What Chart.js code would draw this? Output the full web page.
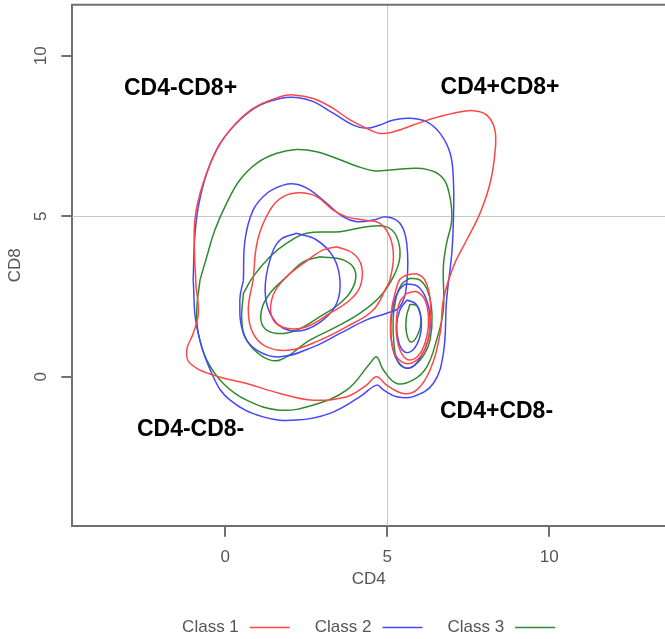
<!DOCTYPE html>
<html>
<head>
<meta charset="utf-8">
<script src="https://cdn.jsdelivr.net/npm/chart.js@4"></script>
<style>
  html, body { margin: 0; padding: 0; background: #fff; overflow: hidden; }
</style>
</head>
<body>
<canvas id="chart" width="665" height="639"></canvas>
<script>
// axis ticks and gate lines
const xTicks = [0, 5, 10];
const yTicks = [0, 5, 10];
const gateX = 5;
const gateY = 5;

const classNames = ['Class 1', 'Class 2', 'Class 3'];

// quadrant labels, placed in data units
const quadrantLabels = ['CD4-CD8+', 'CD4+CD8+', 'CD4-CD8-', 'CD4+CD8-'];
const quadrantX = [-1.38, 8.48, -1.07, 8.37];
const quadrantY = [8.96, 9.02, -1.66, -1.10];

// contour lines, [CD4, CD8]
const class1Level1 = [[-0.90,2.80],[-0.95,3.90],[-0.94,4.88],[-0.78,5.71],[-0.37,6.85],[0.15,7.69],[0.86,8.36],[1.69,8.72],[2.10,8.78],[2.72,8.67],[3.33,8.36],[3.85,8.00],[4.36,7.74],[4.77,7.58],[5.19,7.63],[5.80,7.84],[6.42,8.05],[7.04,8.21],[7.65,8.29],[8.07,8.15],[8.32,7.69],[8.32,6.96],[8.17,6.02],[7.86,5.09],[7.45,4.26],[7.04,3.43],[6.73,2.39],[6.63,1.35],[6.32,0.21],[5.91,-0.41],[5.49,-0.52],[4.98,-0.26],[4.67,0.00],[4.36,-0.26],[3.75,-0.62],[2.72,-0.73],[1.69,-0.52],[0.66,-0.21],[-0.37,0.05],[-1.09,0.42],[-1.19,0.83],[-0.99,1.35],[-0.83,1.98]];
const class1Level2 = [[0.86,3.01],[1.00,4.26],[1.38,5.19],[1.79,5.61],[2.31,5.73],[2.82,5.61],[3.33,5.19],[3.75,4.98],[4.26,4.88],[4.77,4.78],[5.08,4.36],[5.19,3.74],[5.08,3.01],[4.98,2.80],[4.57,2.08],[3.75,1.56],[2.92,1.14],[2.00,0.83],[1.28,0.93],[0.86,1.35],[0.71,2.08]];
const class1Level3 = [[3.44,4.05],[3.95,3.84],[4.21,3.43],[4.16,2.80],[3.85,2.39],[3.23,1.98],[2.51,1.56],[1.90,1.51],[1.48,1.77],[1.43,2.39],[1.79,3.01],[2.41,3.53],[3.02,3.95]];
const class1Spot1 = [[5.60,3.17],[5.91,3.20],[6.16,3.01],[6.32,2.45],[6.32,1.77],[6.26,1.14],[6.06,0.68],[5.76,0.43],[5.45,0.46],[5.21,0.77],[5.10,1.36],[5.14,2.14],[5.29,2.79],[5.39,3.04]];
const class1Spot2 = [[5.60,2.60],[5.91,2.65],[6.16,2.39],[6.27,1.87],[6.22,1.25],[6.01,0.73],[5.70,0.52],[5.44,0.73],[5.29,1.25],[5.29,1.87],[5.39,2.34]];

const class2Level1 = [[-0.99,3.01],[-0.94,4.36],[-0.83,5.30],[-0.57,6.34],[-0.16,7.27],[0.45,8.00],[1.07,8.46],[1.69,8.67],[2.20,8.70],[2.72,8.57],[3.33,8.21],[3.95,7.84],[4.36,7.74],[4.77,7.84],[5.19,8.00],[5.70,8.05],[6.22,7.94],[6.63,7.58],[6.94,6.96],[7.04,6.13],[7.04,4.88],[6.99,3.84],[6.83,2.39],[6.73,0.73],[6.42,-0.21],[5.80,-0.62],[5.29,-0.62],[4.88,-0.41],[4.67,-0.26],[4.16,-0.62],[3.23,-1.14],[2.20,-1.35],[1.17,-1.25],[0.15,-0.73],[-0.37,0.00],[-0.88,1.56]];
const class2Level2 = [[0.56,3.01],[0.61,4.26],[0.86,5.19],[1.28,5.71],[1.79,5.97],[2.20,6.00],[2.61,5.82],[3.13,5.40],[3.64,4.98],[4.06,4.83],[4.57,4.88],[4.98,4.98],[5.39,4.78],[5.60,4.16],[5.60,2.91],[5.39,2.18],[4.98,1.98],[4.36,1.77],[3.54,1.35],[2.72,0.93],[1.69,0.62],[0.97,0.83],[0.56,1.35],[0.45,2.39]];
const class2Level3 = [[2.20,4.47],[2.82,4.26],[3.33,3.74],[3.54,3.01],[3.44,2.29],[3.02,1.77],[2.41,1.45],[1.79,1.51],[1.38,1.98],[1.23,2.70],[1.38,3.64],[1.69,4.26]];
const class2Spot1 = [[5.55,2.89],[5.92,2.83],[6.19,2.45],[6.32,1.83],[6.26,1.14],[6.01,0.58],[5.70,0.27],[5.39,0.40],[5.18,0.83],[5.11,1.61],[5.21,2.33],[5.36,2.70]];
const class2Spot2 = [[5.61,2.39],[5.89,2.26],[6.04,1.83],[6.01,1.27],[5.79,0.83],[5.54,0.77],[5.36,1.05],[5.29,1.61],[5.39,2.08]];

const class3Level1 = [[-0.78,3.01],[-0.57,3.74],[-0.32,4.57],[0.04,5.40],[0.45,6.13],[0.97,6.65],[1.59,6.96],[2.20,7.08],[2.82,7.01],[3.44,6.80],[4.06,6.56],[4.57,6.42],[5.08,6.44],[5.70,6.49],[6.22,6.46],[6.68,6.23],[6.91,5.71],[6.99,4.88],[6.83,4.16],[6.73,3.43],[6.73,2.08],[6.52,1.14],[6.22,0.31],[5.80,-0.10],[5.29,-0.21],[4.88,0.21],[4.67,0.62],[4.47,0.42],[3.75,-0.41],[2.72,-0.88],[1.69,-1.04],[0.66,-0.73],[-0.06,-0.21],[-0.57,0.52],[-0.83,1.35],[-0.88,2.08]];
const class3Level2 = [[0.56,2.60],[0.86,3.12],[1.38,3.74],[1.90,4.16],[2.51,4.47],[3.54,4.52],[4.36,4.67],[4.98,4.67],[5.29,4.36],[5.39,3.74],[5.19,3.12],[4.77,2.49],[4.16,1.98],[3.44,1.56],[2.61,1.14],[1.69,0.52],[1.17,0.62],[0.66,1.14],[0.51,1.77]];
const class3Level3 = [[2.92,3.74],[3.64,3.64],[4.00,3.32],[3.95,2.80],[3.54,2.29],[2.92,1.87],[2.20,1.45],[1.59,1.35],[1.17,1.56],[1.12,2.08],[1.38,2.60],[1.90,3.12],[2.41,3.58]];
const class3Spot1 = [[5.70,3.07],[6.01,3.01],[6.26,2.64],[6.38,1.92],[6.32,1.14],[6.13,0.68],[5.85,0.36],[5.58,0.27],[5.33,0.46],[5.21,0.99],[5.18,1.77],[5.27,2.45],[5.45,2.89]];
const class3Spot2 = [[5.70,2.26],[5.92,2.20],[6.04,1.77],[5.95,1.33],[5.73,1.08],[5.59,1.39],[5.59,1.86]];

const classContours = [
  [class1Level1, class1Level2, class1Level3, class1Spot1, class1Spot2],
  [class2Level1, class2Level2, class2Level3, class2Spot1, class2Spot2],
  [class3Level1, class3Level2, class3Level3, class3Spot1, class3Spot2]
];
const lineColors = ['#ff4646', '#4646ff', '#2f8a2f'];

const FONT = '"Liberation Sans", Arial, sans-serif';
const TEXT = '#555';

// close each contour back on itself
function ring(pts) {
  const out = pts.map(p => ({ x: p[0], y: p[1] }));
  out.push({ x: pts[0][0], y: pts[0][1] });
  return out;
}

const datasets = [];
classContours.forEach((levels, k) => {
  levels.forEach(pts => {
    datasets.push({
      label: classNames[k],
      data: ring(pts),
      showLine: true,
      borderColor: lineColors[k],
      borderWidth: 1.5,
      pointRadius: 0,
      tension: 0.4,
      fill: false
    });
  });
});

const overlay = {
  id: 'overlay',
  beforeDatasetsDraw(chart) {
    const { ctx, chartArea: a, scales: { x, y } } = chart;
    const gx = Math.round(x.getPixelForValue(gateX)) + 0.5;
    const gy = Math.round(y.getPixelForValue(gateY)) + 0.5;
    ctx.save();
    ctx.strokeStyle = '#c8c8c8';
    ctx.lineWidth = 1;
    ctx.beginPath();
    ctx.moveTo(gx, a.top); ctx.lineTo(gx, a.bottom);
    ctx.moveTo(a.left, gy); ctx.lineTo(a.right, gy);
    ctx.stroke();
    ctx.restore();
  },
  afterDraw(chart) {
    const { ctx, chartArea: a, scales: { x, y } } = chart;
    ctx.save();
    // top edge of the box
    ctx.strokeStyle = '#707070';
    ctx.lineWidth = 2;
    ctx.beginPath();
    ctx.moveTo(a.left - 1, a.top);
    ctx.lineTo(a.right, a.top);
    ctx.stroke();

    // rotated y tick labels
    ctx.fillStyle = TEXT;
    ctx.font = '17px ' + FONT;
    ctx.textAlign = 'center';
    ctx.textBaseline = 'middle';
    yTicks.forEach(v => {
      ctx.save();
      ctx.translate(41, y.getPixelForValue(v));
      ctx.rotate(-Math.PI / 2);
      ctx.fillText(String(v), 0, 0);
      ctx.restore();
    });

    // quadrant labels
    ctx.fillStyle = '#000';
    ctx.font = 'bold 23px ' + FONT;
    quadrantLabels.forEach((t, i) => {
      ctx.fillText(t, x.getPixelForValue(quadrantX[i]), y.getPixelForValue(quadrantY[i]));
    });

    // legend: text first, then line sample
    ctx.font = '17px ' + FONT;
    ctx.textAlign = 'left';
    const gap = 11, lineLen = 40, itemGap = 25;
    const widths = classNames.map(n => ctx.measureText(n).width + gap + lineLen);
    const total = widths.reduce((s, w) => s + w, 0) + itemGap * (classNames.length - 1);
    let lx = (a.left + a.right) / 2 - total / 2;
    const ly = 627;
    classNames.forEach((n, i) => {
      const tw = ctx.measureText(n).width;
      ctx.fillStyle = TEXT;
      ctx.fillText(n, lx, ly);
      ctx.strokeStyle = lineColors[i];
      ctx.lineWidth = 1.5;
      ctx.beginPath();
      ctx.moveTo(lx + tw + gap, ly + 0.5);
      ctx.lineTo(lx + tw + gap + lineLen, ly + 0.5);
      ctx.stroke();
      lx += widths[i] + itemGap;
    });
    ctx.restore();
  }
};

new Chart(document.getElementById('chart'), {
  type: 'scatter',
  data: { datasets },
  options: {
    responsive: false,
    animation: false,
    events: [],
    layout: { padding: { top: 4.7, right: 0, bottom: 0, left: 0 } },
    plugins: { legend: { display: false }, tooltip: { enabled: false } },
    scales: {
      x: {
        type: 'linear',
        min: -4.72,
        max: 13.57,
        afterBuildTicks: s => { s.ticks = xTicks.map(v => ({ value: v })); },
        afterFit: s => { s.height = 113.3; },
        grid: { drawOnChartArea: false, drawTicks: true, tickLength: 11, color: '#707070', lineWidth: 2 },
        border: { display: true, color: '#707070', width: 2 },
        ticks: { color: TEXT, font: { family: FONT, size: 17 }, padding: 10, maxRotation: 0 },
        title: { display: true, text: 'CD4', color: TEXT, font: { family: FONT, size: 17 }, padding: { top: 0, bottom: 49 } }
      },
      y: {
        type: 'linear',
        min: -4.64,
        max: 11.59,
        afterBuildTicks: s => { s.ticks = yTicks.map(v => ({ value: v })); },
        afterFit: s => { s.width = 72.3; },
        grid: { drawOnChartArea: false, drawTicks: true, tickLength: 11, color: '#707070', lineWidth: 2 },
        border: { display: true, color: '#707070', width: 2 },
        ticks: { display: false },
        title: { display: true, text: 'CD8', color: TEXT, font: { family: FONT, size: 17 }, padding: { top: 5, bottom: 0 } }
      }
    }
  },
  plugins: [overlay]
});
</script>
</body>
</html>
